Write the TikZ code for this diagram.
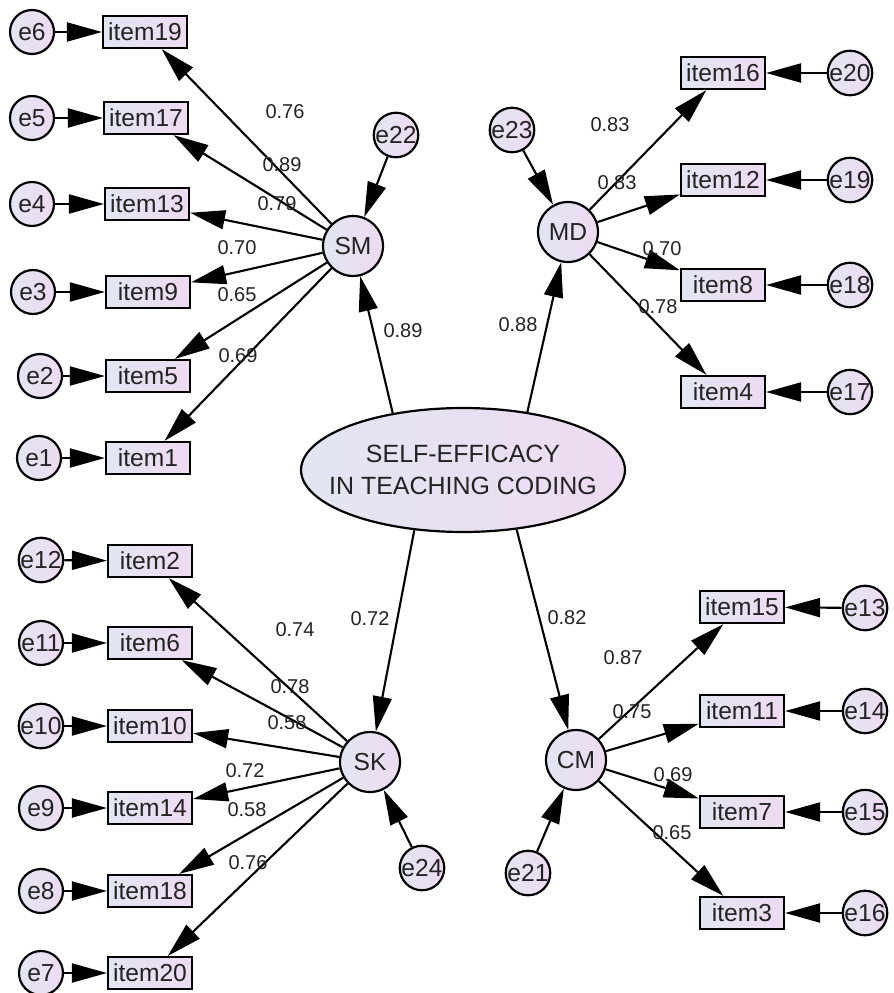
\documentclass[tikz,border=0pt]{standalone}
\usepackage{fontspec}
\setmainfont{Liberation Sans}
\usepackage{tikz}
\usetikzlibrary{arrows.meta}
\usetikzlibrary{shapes.geometric}
\definecolor{fillL}{RGB}{226,230,242}
\definecolor{fillR}{RGB}{238,218,242}
\definecolor{txt}{RGB}{35,35,35}

\begin{document}
\begin{tikzpicture}[x=0.02cm, y=-0.02cm,
                err/.style = {draw, circle, line width=1.25pt, left color=fillL, right color=fillR, minimum size=0.88cm, inner sep=0pt, text=txt, font=\fontsize{14}{16}\selectfont},
                lat/.style = {err, minimum size=1.2cm},
                obs/.style = {draw, rectangle, line width=1.25pt, left color=fillL, right color=fillR, minimum width=1.68cm, minimum height=0.64cm, inner sep=0pt, text=txt, font=\fontsize{14}{16}\selectfont},
                lbl/.style = {text=txt, font=\fontsize{11.4}{13}\selectfont},
                arr/.style = {-{Triangle[length=7mm, width=3.8mm]}, line width=1.2pt}]
                \useasboundingbox (0,0) rectangle (893,993);
                \node[draw, ellipse, line width=1.25pt, left color=fillL, right color=fillR, minimum width=6.48cm, minimum height=2.48cm, inner xsep=-0.5cm, inner ysep=0pt, align=center, text=txt, font=\fontsize{14.2}{18}\selectfont] (SE) at (463,470) {SELF-EFFICACY\\IN TEACHING CODING};
                \node[lat] (SM) at (353,246) {SM};
                \node[lat] (MD) at (568,232) {MD};
                \node[lat] (SK) at (370,762) {SK};
                \node[lat] (CM) at (576,760) {CM};
                \node[err] (e22) at (396,135) {e22};
                \node[err] (e23) at (512,130) {e23};
                \node[err] (e24) at (422,868) {e24};
                \node[err] (e21) at (528,873) {e21};
                \node[obs] (i19) at (145,32) {item19};
                \node[obs] (i17) at (146,118) {item17};
                \node[obs] (i13) at (147,204) {item13};
                \node[obs] (i9) at (148,292) {item9};
                \node[obs] (i5) at (148,376) {item5};
                \node[obs] (i1) at (148,458) {item1};
                \node[err] (e6) at (32,32) {e6};
                \node[err] (e5) at (32,118) {e5};
                \node[err] (e4) at (32,204) {e4};
                \node[err] (e3) at (33,292) {e3};
                \node[err] (e2) at (40,376) {e2};
                \node[err] (e1) at (39,458) {e1};
                \node[obs] (i16) at (723,73) {item16};
                \node[obs] (i12) at (723,180) {item12};
                \node[obs] (i8) at (723,285) {item8};
                \node[obs] (i4) at (723,392) {item4};
                \node[err] (e20) at (850,73) {e20};
                \node[err] (e19) at (850,180) {e19};
                \node[err] (e18) at (850,285) {e18};
                \node[err] (e17) at (850,392) {e17};
                \node[obs] (i2) at (150,561) {item2};
                \node[obs] (i6) at (150,643) {item6};
                \node[obs] (i10) at (150,726) {item10};
                \node[obs] (i14) at (150,808) {item14};
                \node[obs] (i18) at (150,891) {item18};
                \node[obs] (i20) at (150,973) {item20};
                \node[err] (e12) at (41,560) {e12};
                \node[err] (e11) at (41,643) {e11};
                \node[err] (e10) at (41,726) {e10};
                \node[err] (e9) at (41,808) {e9};
                \node[err] (e8) at (41,891) {e8};
                \node[err] (e7) at (41,973) {e7};
                \node[obs] (i15) at (742,607) {item15};
                \node[obs] (i11) at (742,711) {item11};
                \node[obs] (i7) at (742,812) {item7};
                \node[obs] (i3) at (742,913) {item3};
                \node[err] (e13) at (865,608) {e13};
                \node[err] (e14) at (865,711) {e14};
                \node[err] (e15) at (865,812) {e15};
                \node[err] (e16) at (865,913) {e16};
                \path[arr] (SE.141) edge (SM);
                \path[arr] (SE.42) edge (MD);
                \path[arr] (SE.231) edge (SK);
                \path[arr] (SE.312) edge (CM);
                \path[arr] (e22) edge (SM);
                \path[arr] (e23) edge (MD);
                \path[arr] (e24) edge (SK);
                \path[arr] (e21) edge (CM);
                \path[arr] (SM) edge (i19);
                \path[arr] (SM) edge (i17);
                \path[arr] (SM) edge (i13);
                \path[arr] (SM) edge (i9);
                \path[arr] (SM) edge (i5);
                \path[arr] (SM) edge (i1);
                \path[arr] (e6) edge (i19);
                \path[arr] (e5) edge (i17);
                \path[arr] (e4) edge (i13);
                \path[arr] (e3) edge (i9);
                \path[arr] (e2) edge (i5);
                \path[arr] (e1) edge (i1);
                \path[arr] (MD) edge (i16);
                \path[arr] (MD) edge (i12);
                \path[arr] (MD) edge (i8);
                \path[arr] (MD) edge (i4);
                \path[arr] (e20) edge (i16);
                \path[arr] (e19) edge (i12);
                \path[arr] (e18) edge (i8);
                \path[arr] (e17) edge (i4);
                \path[arr] (SK) edge (i2);
                \path[arr] (SK) edge (i6);
                \path[arr] (SK) edge (i10);
                \path[arr] (SK) edge (i14);
                \path[arr] (SK) edge (i18);
                \path[arr] (SK) edge (i20);
                \path[arr] (e12) edge (i2);
                \path[arr] (e11) edge (i6);
                \path[arr] (e10) edge (i10);
                \path[arr] (e9) edge (i14);
                \path[arr] (e8) edge (i18);
                \path[arr] (e7) edge (i20);
                \path[arr] (CM) edge (i15);
                \path[arr] (CM) edge (i11);
                \path[arr] (CM) edge (i7);
                \path[arr] (CM) edge (i3);
                \path[arr] (e13) edge (i15);
                \path[arr] (e14) edge (i11);
                \path[arr] (e15) edge (i7);
                \path[arr] (e16) edge (i3);
                \node[lbl] (l1) at (285,112) {0.76};
                \node[lbl] (l2) at (282,165) {0.89};
                \node[lbl] (l3) at (277,204) {0.79};
                \node[lbl] (l4) at (237,248) {0.70};
                \node[lbl] (l5) at (237,295) {0.65};
                \node[lbl] (l6) at (238,356) {0.69};
                \node[lbl] (l7) at (403,331) {0.89};
                \node[lbl] (l8) at (610,125) {0.83};
                \node[lbl] (l9) at (617,183) {0.83};
                \node[lbl] (l10) at (662,249) {0.70};
                \node[lbl] (l11) at (658,307) {0.78};
                \node[lbl] (l12) at (518,325) {0.88};
                \node[lbl] (l13) at (295,630) {0.74};
                \node[lbl] (l14) at (290,687) {0.78};
                \node[lbl] (l15) at (287,723) {0.58};
                \node[lbl] (l16) at (245,771) {0.72};
                \node[lbl] (l17) at (247,810) {0.58};
                \node[lbl] (l18) at (248,863) {0.76};
                \node[lbl] (l19) at (370,619) {0.72};
                \node[lbl] (l20) at (567,618) {0.82};
                \node[lbl] (l21) at (623,658) {0.87};
                \node[lbl] (l22) at (632,712) {0.75};
                \node[lbl] (l23) at (673,775) {0.69};
                \node[lbl] (l24) at (672,833) {0.65};
            \end{tikzpicture}
\end{document}
